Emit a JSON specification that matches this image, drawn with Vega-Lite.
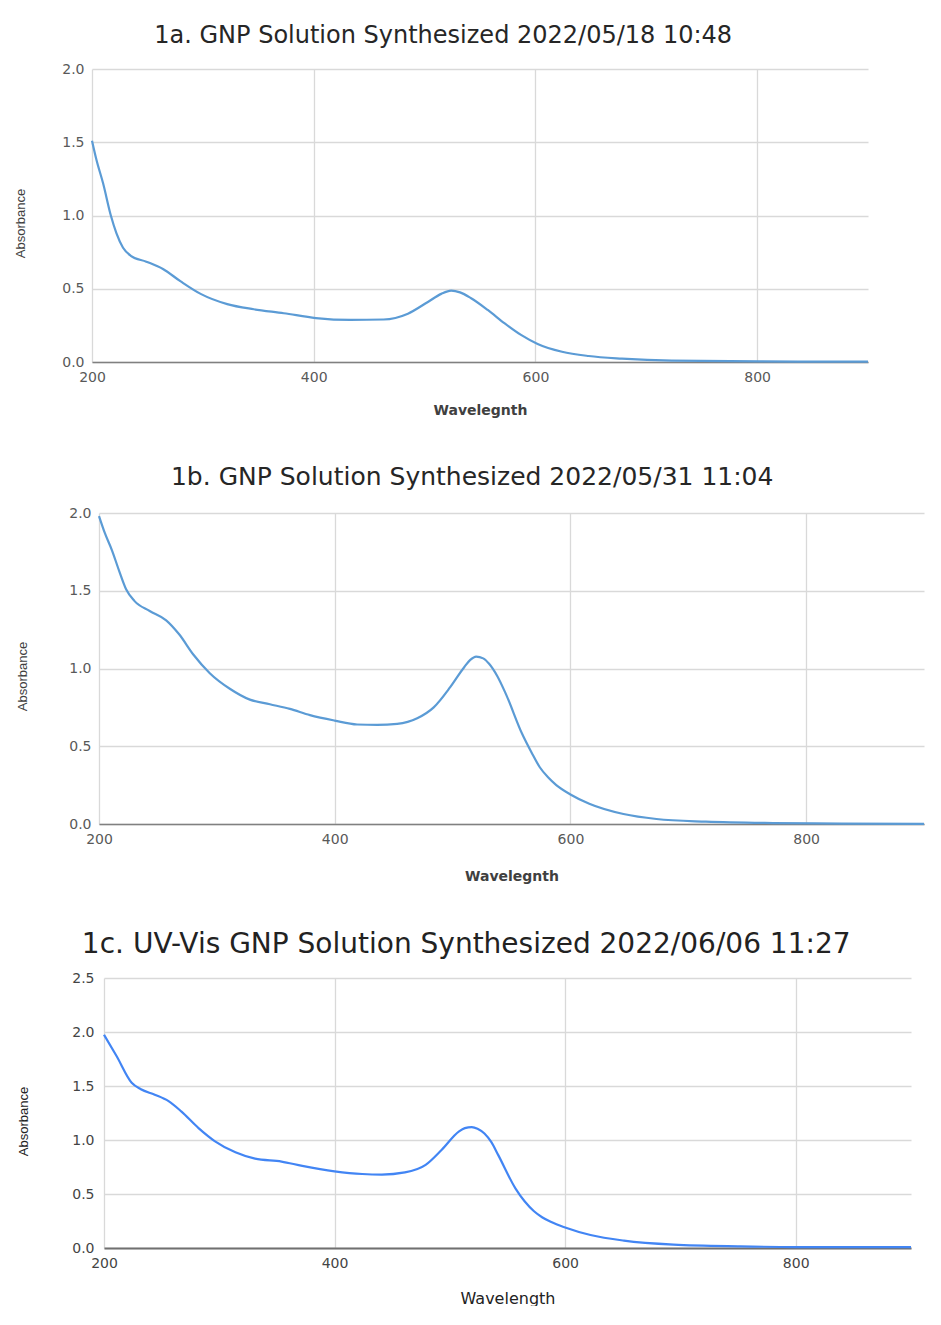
{
  "$schema": "https://vega.github.io/schema/vega-lite/v6.json",
  "background": "white",
  "padding": {"left": 13, "top": 24, "right": 0, "bottom": 0},
  "spacing": 48,
  "datasets": {
    "p1": [
      {"wl": 200, "a": 1.51}, {"wl": 204, "a": 1.38}, {"wl": 210, "a": 1.22}, {"wl": 217, "a": 1.0},
      {"wl": 222, "a": 0.88}, {"wl": 228, "a": 0.78}, {"wl": 235, "a": 0.725}, {"wl": 249, "a": 0.685},
      {"wl": 264, "a": 0.635}, {"wl": 280, "a": 0.55}, {"wl": 298, "a": 0.465}, {"wl": 322, "a": 0.395},
      {"wl": 346, "a": 0.36}, {"wl": 373, "a": 0.333}, {"wl": 402, "a": 0.30}, {"wl": 433, "a": 0.287},
      {"wl": 463, "a": 0.29}, {"wl": 485, "a": 0.33}, {"wl": 503, "a": 0.41}, {"wl": 515, "a": 0.465},
      {"wl": 524, "a": 0.487}, {"wl": 532, "a": 0.475}, {"wl": 542, "a": 0.435}, {"wl": 557, "a": 0.355},
      {"wl": 572, "a": 0.265}, {"wl": 587, "a": 0.185}, {"wl": 602, "a": 0.123}, {"wl": 624, "a": 0.07},
      {"wl": 648, "a": 0.041}, {"wl": 678, "a": 0.023}, {"wl": 723, "a": 0.009}, {"wl": 802, "a": 0.004},
      {"wl": 900, "a": 0.002}
    ],
    "p2": [
      {"wl": 200, "a": 1.98}, {"wl": 205, "a": 1.87}, {"wl": 211, "a": 1.76}, {"wl": 217, "a": 1.63},
      {"wl": 223, "a": 1.51}, {"wl": 230, "a": 1.435}, {"wl": 243, "a": 1.37}, {"wl": 257, "a": 1.31},
      {"wl": 268, "a": 1.22}, {"wl": 280, "a": 1.09}, {"wl": 294, "a": 0.97}, {"wl": 311, "a": 0.87},
      {"wl": 328, "a": 0.80}, {"wl": 345, "a": 0.77}, {"wl": 362, "a": 0.74}, {"wl": 379, "a": 0.70},
      {"wl": 400, "a": 0.665}, {"wl": 419, "a": 0.64}, {"wl": 436, "a": 0.637}, {"wl": 453, "a": 0.644},
      {"wl": 470, "a": 0.68}, {"wl": 484, "a": 0.75}, {"wl": 498, "a": 0.88}, {"wl": 510, "a": 1.01},
      {"wl": 515, "a": 1.055}, {"wl": 520, "a": 1.077}, {"wl": 526, "a": 1.065}, {"wl": 531, "a": 1.03},
      {"wl": 538, "a": 0.95}, {"wl": 545, "a": 0.84}, {"wl": 559, "a": 0.58}, {"wl": 567, "a": 0.46},
      {"wl": 574, "a": 0.365}, {"wl": 581, "a": 0.30}, {"wl": 588, "a": 0.25}, {"wl": 600, "a": 0.19},
      {"wl": 616, "a": 0.13}, {"wl": 645, "a": 0.064}, {"wl": 673, "a": 0.032}, {"wl": 715, "a": 0.015},
      {"wl": 772, "a": 0.006}, {"wl": 830, "a": 0.003}, {"wl": 900, "a": 0.001}
    ],
    "p3": [
      {"wl": 200, "a": 1.975}, {"wl": 211, "a": 1.775}, {"wl": 224, "a": 1.53}, {"wl": 232, "a": 1.47},
      {"wl": 244, "a": 1.42}, {"wl": 256, "a": 1.36}, {"wl": 267, "a": 1.265}, {"wl": 282, "a": 1.11},
      {"wl": 296, "a": 0.99}, {"wl": 314, "a": 0.886}, {"wl": 331, "a": 0.827}, {"wl": 354, "a": 0.80},
      {"wl": 372, "a": 0.76}, {"wl": 400, "a": 0.71}, {"wl": 424, "a": 0.685}, {"wl": 441, "a": 0.68},
      {"wl": 461, "a": 0.70}, {"wl": 479, "a": 0.77}, {"wl": 493, "a": 0.91}, {"wl": 508, "a": 1.08},
      {"wl": 513, "a": 1.11}, {"wl": 519, "a": 1.12}, {"wl": 524, "a": 1.105}, {"wl": 530, "a": 1.06},
      {"wl": 536, "a": 0.98}, {"wl": 542, "a": 0.86}, {"wl": 557, "a": 0.55}, {"wl": 565, "a": 0.43},
      {"wl": 573, "a": 0.34}, {"wl": 580, "a": 0.285}, {"wl": 588, "a": 0.24}, {"wl": 600, "a": 0.19},
      {"wl": 622, "a": 0.12}, {"wl": 651, "a": 0.068}, {"wl": 694, "a": 0.031}, {"wl": 752, "a": 0.015},
      {"wl": 800, "a": 0.009}, {"wl": 900, "a": 0.008}
    ],
    "none": []
  },
  "vconcat": [
    {
      "spacing": 0,
      "hconcat": [
        {"width": 1, "height": 1, "data": {"name": "none"}, "mark": {"type": "point", "opacity": 0}},
        {
          "width": 776, "height": 293,
          "title": {"text": "1a. GNP Solution Synthesized 2022/05/18 10:48", "font": "DejaVu Sans", "fontSize": 24, "fontWeight": "normal", "color": "#262626", "baseline": "bottom", "offset": -10, "frame": "bounds"},
          "data": {"name": "p1"},
          "mark": {"type": "line", "interpolate": "monotone", "color": "#5b9bd5", "strokeWidth": 2.2},
          "encoding": {
            "x": {"field": "wl", "type": "quantitative", "scale": {"domain": [200, 900], "nice": false, "zero": false},
              "axis": {"values": [200, 400, 600, 800], "title": "Wavelegnth", "labelFont": "DejaVu Sans", "labelFontSize": 14, "labelColor": "#595959",
                "titleFont": "DejaVu Sans", "titleFontSize": 14, "titleFontWeight": "bold", "titleColor": "#404040", "titlePadding": 19,
                "domain": true, "domainColor": "#808080", "domainWidth": 1.5}},
            "y": {"field": "a", "type": "quantitative", "scale": {"domain": [0, 2], "nice": false},
              "axis": {"values": [0, 0.5, 1, 1.5, 2], "format": ".1f", "title": "Absorbance", "labelFont": "DejaVu Sans", "labelFontSize": 14, "labelColor": "#595959",
                "titleFont": "Liberation Sans", "titleFontSize": 13, "titleFontWeight": "normal", "titleColor": "#404040",
                "titleX": -72, "titleY": 154, "titleBaseline": "middle"}}
          }
        }
      ]
    },
    {
      "spacing": 0,
      "hconcat": [
        {"width": 3, "height": 1, "data": {"name": "none"}, "mark": {"type": "point", "opacity": 0}},
        {
          "width": 825, "height": 311,
          "title": {"text": "1b. GNP Solution Synthesized 2022/05/31 11:04", "font": "DejaVu Sans", "fontSize": 25, "fontWeight": "normal", "color": "#262626", "baseline": "bottom", "offset": -9, "frame": "bounds"},
          "data": {"name": "p2"},
          "mark": {"type": "line", "interpolate": "monotone", "color": "#5b9bd5", "strokeWidth": 2.2},
          "encoding": {
            "x": {"field": "wl", "type": "quantitative", "scale": {"domain": [200, 900], "nice": false, "zero": false},
              "axis": {"values": [200, 400, 600, 800], "title": "Wavelegnth", "labelFont": "DejaVu Sans", "labelFontSize": 14, "labelColor": "#595959",
                "titleFont": "DejaVu Sans", "titleFontSize": 14, "titleFontWeight": "bold", "titleColor": "#404040", "titlePadding": 23,
                "domain": true, "domainColor": "#808080", "domainWidth": 1.5}},
            "y": {"field": "a", "type": "quantitative", "scale": {"domain": [0, 2], "nice": false},
              "axis": {"values": [0, 0.5, 1, 1.5, 2], "format": ".1f", "title": "Absorbance", "labelFont": "DejaVu Sans", "labelFontSize": 14, "labelColor": "#595959",
                "titleFont": "Liberation Sans", "titleFontSize": 13, "titleFontWeight": "normal", "titleColor": "#404040",
                "titleX": -77, "titleY": 163, "titleBaseline": "middle"}}
          }
        }
      ]
    },
    {
      "spacing": 0,
      "hconcat": [
        {"width": 4, "height": 1, "data": {"name": "none"}, "mark": {"type": "point", "opacity": 0}},
        {
          "width": 807, "height": 270,
          "title": {"text": "1c. UV-Vis GNP Solution Synthesized 2022/06/06 11:27", "font": "DejaVu Sans", "fontSize": 28, "fontWeight": "normal", "color": "#222222", "baseline": "bottom", "offset": -16, "frame": "bounds"},
          "data": {"name": "p3"},
          "mark": {"type": "line", "interpolate": "monotone", "color": "#4285f4", "strokeWidth": 2.2},
          "encoding": {
            "x": {"field": "wl", "type": "quantitative", "scale": {"domain": [200, 900], "nice": false, "zero": false},
              "axis": {"values": [200, 400, 600, 800], "title": "Wavelength", "labelFont": "DejaVu Sans", "labelFontSize": 14, "labelColor": "#444444",
                "titleFont": "DejaVu Sans", "titleFontSize": 16, "titleFontWeight": "normal", "titleColor": "#222222", "titlePadding": 20,
                "domain": true, "domainColor": "#707070", "domainWidth": 2}},
            "y": {"field": "a", "type": "quantitative", "scale": {"domain": [0, 2.5], "nice": false},
              "axis": {"values": [0, 0.5, 1, 1.5, 2, 2.5], "format": ".1f", "title": "Absorbance", "labelFont": "DejaVu Sans", "labelFontSize": 14, "labelColor": "#444444", "labelPadding": 10,
                "titleFont": "Liberation Sans", "titleFontSize": 13, "titleFontWeight": "normal", "titleColor": "#222222",
                "titleX": -81, "titleY": 143, "titleBaseline": "middle"}}
          }
        }
      ]
    }
  ],
  "config": {
    "view": {"stroke": null},
    "axis": {"grid": true, "gridColor": "#d9d9d9", "gridWidth": 1.3, "ticks": false, "domain": false, "labelPadding": 8, "labelFlush": false}
  }
}
